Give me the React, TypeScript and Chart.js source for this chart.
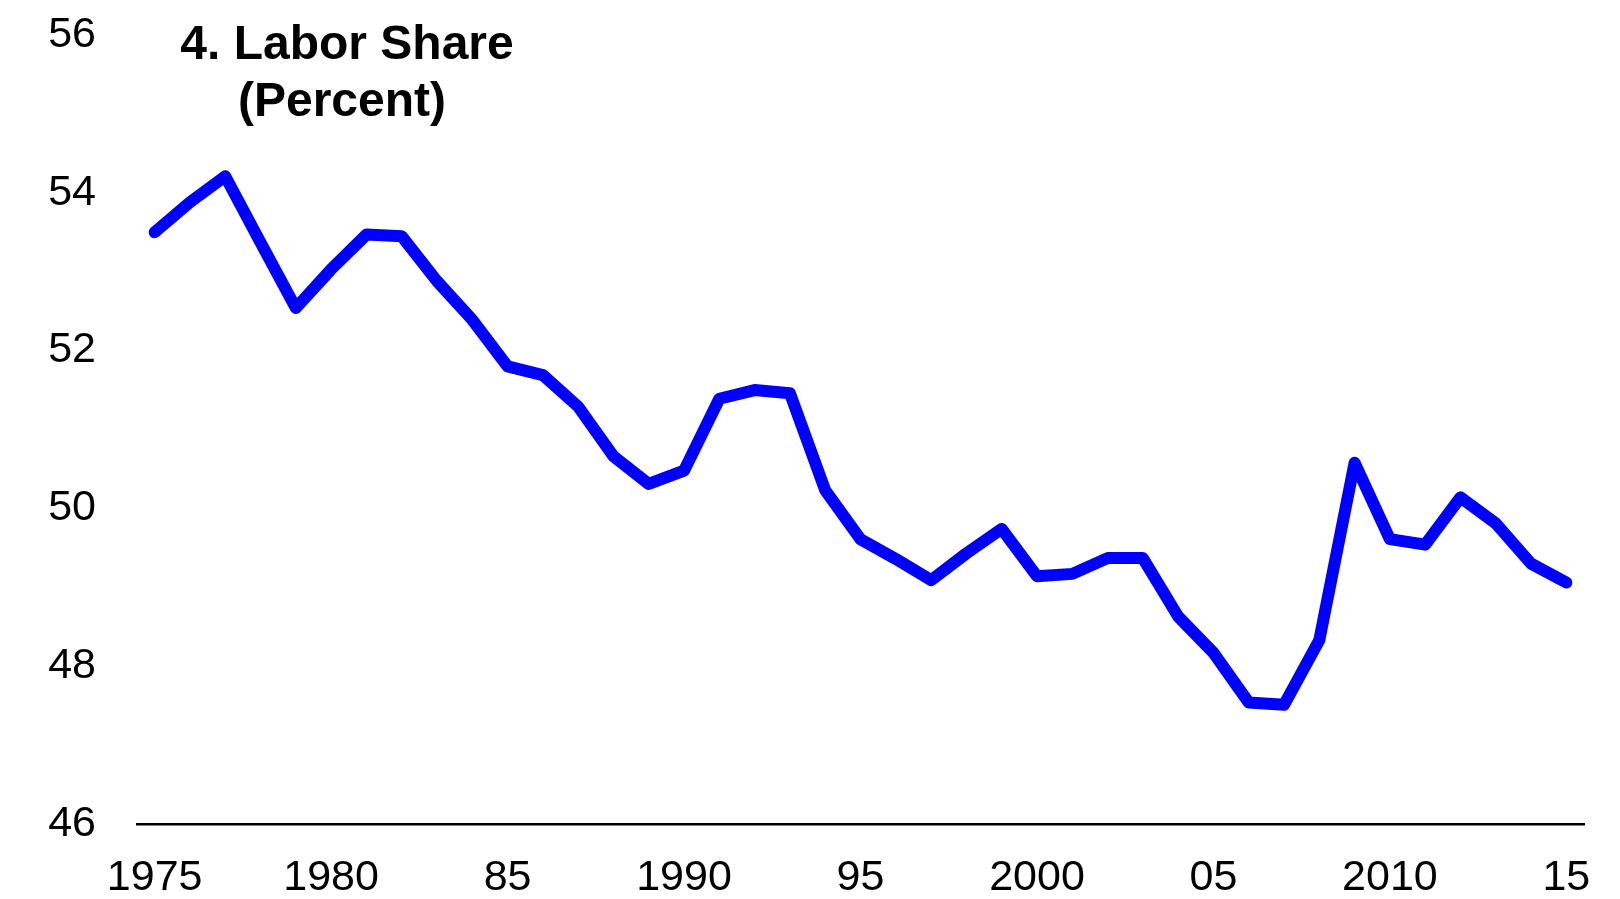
import React, { useEffect, useRef } from "react";
import { Chart, registerables } from "chart.js";

Chart.register(...registerables);

const years: number[] = [
  1975, 1976, 1977, 1978, 1979, 1980, 1981, 1982, 1983, 1984,
  1985, 1986, 1987, 1988, 1989, 1990, 1991, 1992, 1993, 1994,
  1995, 1996, 1997, 1998, 1999, 2000, 2001, 2002, 2003, 2004,
  2005, 2006, 2007, 2008, 2009, 2010, 2011, 2012, 2013, 2014, 2015,
];

const laborShare: number[] = [
  53.5, 53.88, 54.21, 53.37, 52.54, 53.03, 53.47, 53.45, 52.88, 52.39,
  51.8, 51.69, 51.29, 50.66, 50.31, 50.48, 51.39, 51.5, 51.46, 50.23,
  49.61, 49.36, 49.09, 49.43, 49.74, 49.14, 49.17, 49.37, 49.37, 48.63,
  48.17, 47.54, 47.51, 48.33, 50.58, 49.61, 49.54, 50.14, 49.81, 49.3, 49.06,
];

const labelYears: number[] = [1975, 1980, 1985, 1990, 1995, 2000, 2005, 2010, 2015];
const xTickLabels: string[] = ["1975", "1980", "85", "1990", "95", "2000", "05", "2010", "15"];

const yMin = 46;
const yMax = 56;
const yStep = 2;

const titleLines: string[] = ["4. Labor Share", "(Percent)"];

const FONT = '"Liberation Sans", Arial, sans-serif';

export default function App() {
  const canvasRef = useRef<HTMLCanvasElement | null>(null);

  useEffect(() => {
    const canvas = canvasRef.current;
    if (!canvas) return;

    const titlePlugin = {
      id: "innerTitle",
      afterDraw(chart: any) {
        const ctx = chart.ctx;
        ctx.save();
        ctx.fillStyle = "#000";
        ctx.font = `bold 48px ${FONT}`;
        ctx.textAlign = "center";
        ctx.textBaseline = "alphabetic";
        ctx.fillText(titleLines[0], 347, 59);
        ctx.fillText(titleLines[1], 342, 116);
        ctx.restore();
      },
    };

    const chart = new Chart(canvas, {
      type: "line",
      data: {
        labels: years.map(String),
        datasets: [
          {
            label: "Labor Share",
            data: laborShare,
            borderColor: "#0000FF",
            backgroundColor: "#0000FF",
            borderWidth: 12,
            borderJoinStyle: "round",
            borderCapStyle: "round",
            pointRadius: 0,
            pointHoverRadius: 0,
            tension: 0,
            fill: false,
          },
        ],
      },
      options: {
        animation: false,
        responsive: true,
        maintainAspectRatio: false,
        layout: { padding: { top: 35, right: 36, left: 0, bottom: 0 } },
        plugins: {
          legend: { display: false },
          tooltip: { enabled: false },
          title: { display: false },
        },
        scales: {
          x: {
            type: "category",
            offset: true,
            grid: { display: false, drawTicks: false },
            border: { display: true, color: "#000", width: 2.5 },
            ticks: {
              autoSkip: false,
              maxRotation: 0,
              minRotation: 0,
              padding: 28,
              color: "#000",
              font: { family: FONT, size: 43 },
              callback: (_v: any, i: number) => {
                const idx = labelYears.indexOf(years[i]);
                return idx >= 0 ? xTickLabels[idx] : null;
              },
            },
            afterFit: (s: any) => {
              s.height = 75;
              s.paddingLeft = 0;
              s.paddingRight = 0;
            },
          },
          y: {
            type: "linear",
            min: yMin,
            max: yMax,
            grid: { display: false, drawTicks: false },
            border: { display: false },
            ticks: {
              stepSize: yStep,
              padding: 41,
              color: "#000",
              font: { family: FONT, size: 43 },
            },
            afterFit: (s: any) => {
              s.width = 137;
              s.paddingTop = 0;
              s.paddingBottom = 0;
            },
          },
        },
      },
      plugins: [titlePlugin],
    });

    return () => chart.destroy();
  }, []);

  return (
    <div style={{ position: "absolute", left: 0, top: 0, width: 1620, height: 899, background: "#fff" }}>
      <canvas ref={canvasRef} />
    </div>
  );
}
